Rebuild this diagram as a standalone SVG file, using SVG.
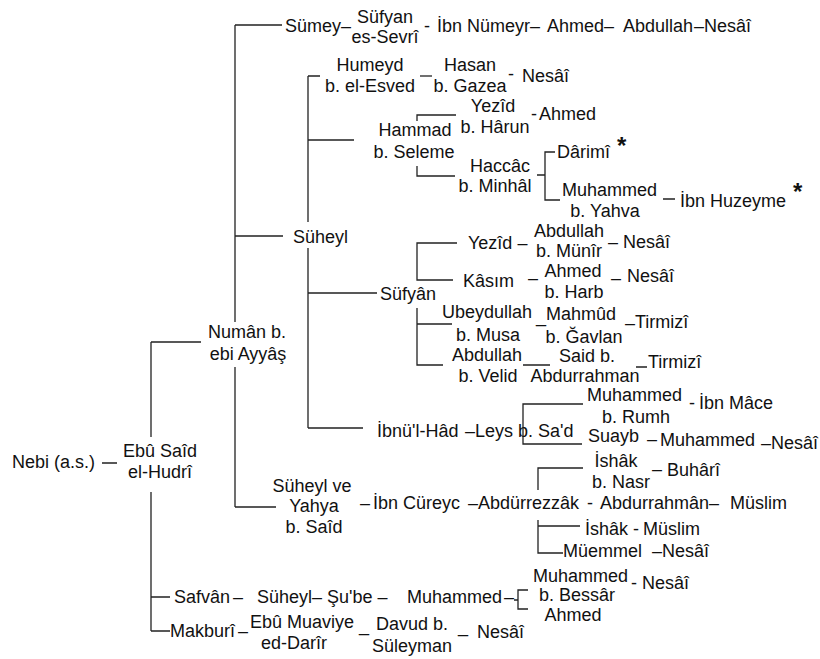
<svg xmlns="http://www.w3.org/2000/svg" width="820" height="659" viewBox="0 0 820 659">
<style>
text { font-family: "Liberation Sans", Arial, sans-serif; font-size: 18px; fill: #111; }
.m { text-anchor: middle; }
.star { font-weight: bold; font-size: 24px; }
.c path { stroke: #222; stroke-width: 1.3; fill: none; }
</style>
<rect width="820" height="659" fill="#fff"/>
<g id="connectors" class="c">
<path d="M235 25V322M235 367V507M235 25H282M235 236H283M235 507H276"/>
<path d="M102 463H117M151 342H201M151 342V437M151 492V631M151 597H170M151 631H170"/>
<path d="M308 76V222M308 248V428M308 76H320M308 140H354M308 293H377M308 428H363"/>
<path d="M420 76H432"/>
<path d="M417 121V115H456M417 166V176H455"/>
<path d="M537 175H545M555 152H545V200H560M663 199H675"/>
<path d="M457 243H417V280H453M452 324H417V308M417 324V365H443"/>
<path d="M523 365H550M636 367H647"/>
<path d="M583 404H523V444H582"/>
<path d="M583 468H538V490M538 520V553H563M538 526H580"/>
<path d="M528 590H518V609H528M514 600H518"/>
<text x="424" y="32">-</text>
<text x="508" y="80">-</text>
<text x="531" y="120">-</text>
<text x="608" y="248">–</text>
<text x="528" y="284">–</text>
<text x="611" y="284">–</text>
<text x="536" y="322">_</text>
<text x="625" y="329">–</text>
<text x="689" y="409">-</text>
<text x="647" y="445">–</text>
<text x="652" y="475">–</text>
<text x="360" y="509">–</text>
<text x="468" y="509">–</text>
<text x="587" y="509">-</text>
<text x="633" y="535">-</text>
<text x="233" y="603">–</text>
<text x="504" y="603">–</text>
<text x="631" y="589">-</text>
<text x="238" y="637">–</text>
<text x="359" y="631">_</text>
<text x="458" y="632">_</text>
</g>
<g id="n-nebi"><text x="12" y="468">Nebi (a.s.)</text></g>
<g id="n-ebusaid"><text class="m" x="160" y="457">Ebû Saîd</text><text class="m" x="160" y="478">el-Hudrî</text></g>
<g id="n-numan"><text class="m" x="247" y="338">Numân b.</text><text class="m" x="248" y="360">ebi Ayyâş</text></g>
<g id="n-sumey"><text x="285" y="32">Sümey–</text></g>
<g id="n-sufyan-sevri"><text class="m" x="385" y="23">Süfyan</text><text class="m" x="385" y="43">es-Sevrî</text></g>
<g id="n-ibn-numeyr"><text x="437" y="32">İbn Nümeyr–</text></g>
<g id="n-ahmed-1"><text x="547" y="32">Ahmed–</text></g>
<g id="n-abdullah-1"><text x="623" y="32">Abdullah</text></g>
<g id="n-nesai-1"><text x="694" y="32">–Nesâî</text></g>
<g id="n-humeyd"><text class="m" x="370" y="71">Humeyd</text><text class="m" x="370" y="92">b. el-Esved</text></g>
<g id="n-hasan"><text class="m" x="470" y="71">Hasan</text><text class="m" x="470" y="92">b. Gazea</text></g>
<g id="n-nesai-2"><text x="522" y="82">Nesâî</text></g>
<g id="n-hammad"><text class="m" x="415" y="136">Hammad</text><text class="m" x="414" y="158">b. Seleme</text></g>
<g id="n-yezid-1"><text class="m" x="493" y="112">Yezîd</text><text class="m" x="495" y="133">b. Hârun</text></g>
<g id="n-ahmed-2"><text x="539" y="120">Ahmed</text></g>
<g id="n-haccac"><text class="m" x="500" y="172">Haccâc</text><text class="m" x="495" y="192">b. Minhâl</text></g>
<g id="n-darimi"><text x="557" y="158">Dârimî</text><text class="star" x="617" y="154">*</text></g>
<g id="n-muhammed-1"><text x="562" y="196">Muhammed</text><text class="m" x="605" y="217">b. Yahva</text></g>
<g id="n-ibn-huzeyme"><text x="680" y="207">İbn Huzeyme</text><text class="star" x="793" y="200">*</text></g>
<g id="n-suheyl"><text x="293" y="243">Süheyl</text></g>
<g id="n-sufyan"><text x="380" y="300">Süfyân</text></g>
<g id="n-yezid-2"><text x="468" y="249">Yezîd –</text></g>
<g id="n-abdullah-2"><text class="m" x="569" y="237">Abdullah</text><text class="m" x="569" y="257">b. Münîr</text></g>
<g id="n-nesai-3"><text x="623" y="248">Nesâî</text></g>
<g id="n-kasim"><text x="463" y="287">Kâsım</text></g>
<g id="n-ahmed-3"><text class="m" x="573" y="277">Ahmed</text><text class="m" x="574" y="298">b. Harb</text></g>
<g id="n-nesai-4"><text x="627" y="282">Nesâî</text></g>
<g id="n-ubeydullah"><text class="m" x="487" y="318">Ubeydullah</text><text class="m" x="488" y="341">b. Musa</text></g>
<g id="n-mahmud"><text class="m" x="581" y="320">Mahmûd</text><text class="m" x="584" y="343">b. Ğavlan</text></g>
<g id="n-tirmizi-1"><text x="635" y="328">Tirmizî</text></g>
<g id="n-abdullah-3"><text class="m" x="487" y="361">Abdullah</text><text class="m" x="488" y="382">b. Velid</text></g>
<g id="n-said"><text class="m" x="587" y="362">Said b.</text><text class="m" x="585" y="382">Abdurrahman</text></g>
<g id="n-tirmizi-2"><text x="648" y="368">Tirmizî</text></g>
<g id="n-ibnul-had"><text x="377" y="437">İbnü'l-Hâd</text></g>
<g id="n-leys"><text x="465" y="437">–Leys b. Sa'd</text></g>
<g id="n-muhammed-2"><text x="587" y="401">Muhammed</text><text class="m" x="636" y="423">b. Rumh</text></g>
<g id="n-ibn-mace"><text x="699" y="409">İbn Mâce</text></g>
<g id="n-suayb"><text x="588" y="442">Suayb</text></g>
<g id="n-muhammed-3"><text x="660" y="446">Muhammed</text></g>
<g id="n-nesai-5"><text x="761" y="449">–Nesâî</text></g>
<g id="n-ishak-1"><text class="m" x="616" y="467">İshâk</text><text class="m" x="621" y="488">b. Nasr</text></g>
<g id="n-buhari"><text x="667" y="476">Buhârî</text></g>
<g id="n-suheyl-yahya"><text class="m" x="312" y="492">Süheyl ve</text><text class="m" x="314" y="512">Yahya</text><text class="m" x="314" y="533">b. Saîd</text></g>
<g id="n-ibn-cureyc"><text x="373" y="509">İbn Cüreyc</text></g>
<g id="n-abdurrezzak"><text x="478" y="509">Abdürrezzâk</text></g>
<g id="n-abdurrahman"><text x="600" y="509">Abdurrahmân–</text></g>
<g id="n-muslim-1"><text x="730" y="509">Müslim</text></g>
<g id="n-ishak-2"><text x="585" y="535">İshâk</text></g>
<g id="n-muslim-2"><text x="643" y="535">Müslim</text></g>
<g id="n-muemmel"><text x="563" y="557">Müemmel</text></g>
<g id="n-nesai-6"><text x="652" y="557">–Nesâî</text></g>
<g id="n-safvan"><text x="174" y="603">Safvân</text></g>
<g id="n-suheyl-2"><text x="257" y="603">Süheyl–</text></g>
<g id="n-shube"><text x="327" y="603">Şu'be –</text></g>
<g id="n-muhammed-4"><text x="407" y="603">Muhammed</text></g>
<g id="n-muhammed-5"><text x="533" y="582">Muhammed</text><text class="m" x="577" y="601">b. Bessâr</text><text class="m" x="573" y="621">Ahmed</text></g>
<g id="n-nesai-7"><text x="642" y="589">Nesâî</text></g>
<g id="n-makburi"><text x="170" y="637">Makburî</text></g>
<g id="n-ebu-muaviye"><text class="m" x="302" y="628">Ebû Muaviye</text><text class="m" x="294" y="649">ed-Darîr</text></g>
<g id="n-davud"><text class="m" x="412" y="630">Davud b.</text><text class="m" x="412" y="652">Süleyman</text></g>
<g id="n-nesai-8"><text x="477" y="638">Nesâî</text></g>
</svg>
